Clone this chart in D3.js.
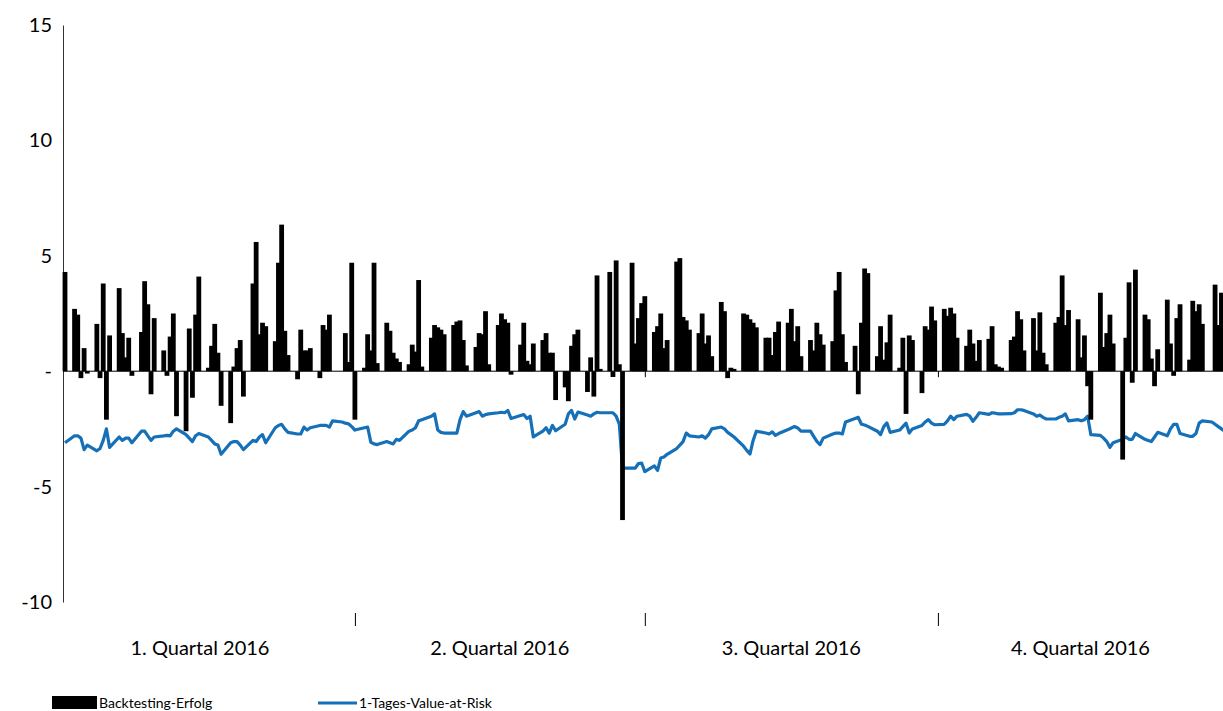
<!DOCTYPE html>
<html>
<head>
<meta charset="utf-8">
<script src="https://cdn.jsdelivr.net/npm/d3@7"></script>
<style>
  body { margin: 0; background: #fff; }
  svg { display: block; font-family: Lato, "Open Sans", sans-serif; }
  .ylab text { font-size: 20px; fill: #000; }
  .qlabel { font-size: 20px; fill: #000; }
  .legend text { font-size: 14px; fill: #000; }
</style>
</head>
<body>
<svg id="chart" width="1223" height="711"></svg>
<script>
// Backtesting-Erfolg per trading day (weekdays of 2016), one array per quarter
const erfolgQ1 = [
  4.3,
  2.7, 2.45, -0.3, 1.0, -0.1,
  2.05, -0.3, 3.8, -2.1, 1.55,
  3.6, 1.65, 0.6, 1.45, -0.2,
  1.7, 3.9, 2.9, -1.0, 2.3,
  0.9, -0.2, 1.5, 2.5, -1.95,
  -2.6, 1.85, -1.15, 2.45, 4.1,
  0.15, 1.1, 2.05, 0.8, -1.5,
  -2.25, 0.2, 1.0, 1.35, -1.1,
  3.8, 5.6, 1.6, 2.1, 1.95,
  1.3, 4.7, 6.35, 1.75, 0.7,
  -0.35, 1.8, 0.9, 0.9, 1.0,
  -0.3, 2.0, 1.8, 2.45, 0,
  0, 1.65, 0.4, 4.7
];
const erfolgQ2 = [
  -2.1,
  0.15, 1.6, 0.9, 4.7, 0.35,
  2.1, 1.75, 0.8, 0.55, 0.4,
  0.3, 1.15, 0.85, 3.95, 0.2,
  1.45, 2.0, 1.9, 1.8, 1.6,
  2.0, 2.15, 2.2, 1.35, 0.25,
  1.05, 1.65, 1.6, 2.6, 0.3,
  2.0, 2.5, 2.25, 2.1, -0.15,
  1.15, 2.1, 0.45, 0.3, 1.2,
  1.35, 1.65, 0.8, 0.8, -1.25,
  -0.7, -1.3, 1.1, 1.6, 1.8,
  -0.9, 0.6, -1.1, 4.15, 0.1,
  4.3, -0.25, 4.8, 0.3, -6.45,
  4.7, 1.2, 2.3, 2.95
];
const erfolgQ3 = [
  3.25,
  1.7, 1.95, 2.5, 1.0, 1.35,
  4.75, 4.9, 2.35, 2.2, 1.8,
  1.65, 2.5, 1.2, 1.55, 0.65,
  3.0, 2.6, -0.3, 0.15, 0.1,
  2.5, 2.45, 2.25, 2.1, 1.9,
  1.45, 1.45, 0.7, 1.7, 2.15,
  2.1, 2.7, 1.3, 1.95, 0.65,
  1.35, 0.9, 2.1, 1.6, 1.15,
  1.3, 3.5, 4.3, 1.6, 0.4,
  1.1, -1.0, 2.1, 4.45, 4.25,
  0.65, 1.95, 0.5, 1.25, 2.45,
  0.15, 1.45, -1.85, 1.55, 1.35,
  -0.95, 1.95, 1.8, 2.8, 2.2
];
const erfolgQ4 = [
  2.7, 2.4, 2.75, 2.5, 1.45,
  1.1, 1.8, 1.2, 0.45, 1.35,
  1.4, 1.95, 0.3, 0.2, 0.15,
  1.35, 1.5, 2.6, 2.25, 0.9,
  2.3, 0.9, 2.55, 0.8, 0.3,
  2.1, 2.35, 4.15, 2.0, 2.65,
  2.25, 0.6, 1.55, -0.65, -2.1,
  3.4, 1.05, 1.65, 2.45, 1.2,
  -3.83, 1.45, 3.85, -0.5, 4.4,
  2.45, 2.25, 0.55, -0.65, 0.95,
  3.1, 1.2, -0.2, 2.3, 2.9,
  0.5, 3.05, 2.6, 2.9, 2.05,
  0, 3.75, 2.0, 3.4, 0.5
];

// 1-Tages-Value-at-Risk per trading day
const varQ1 = [
  -3.1,
  -2.8, -2.8, -2.9, -3.4, -3.2,
  -3.45, -3.35, -3.0, -2.5, -3.3,
  -2.85, -3.0, -2.9, -2.9, -3.1,
  -2.6, -2.6, -2.8, -3.0, -2.85,
  -2.8, -2.78, -2.8, -2.6, -2.5,
  -2.75, -2.9, -3.05, -2.8, -2.7,
  -2.85, -3.0, -3.15, -3.2, -3.6,
  -3.1, -3.05, -3.05, -3.2, -3.4,
  -3.0, -3.05, -2.85, -2.75, -3.1,
  -2.45, -2.35, -2.3, -2.5, -2.65,
  -2.72, -2.72, -2.42, -2.55, -2.45,
  -2.35, -2.35, -2.35, -2.42, -2.15,
  -2.2, -2.25, -2.28, -2.4
];
const varQ2 = [
  -2.55,
  -2.45, -2.42, -3.08, -3.15, -3.18,
  -3.05, -3.1, -3.15, -2.95, -3.0,
  -2.6, -2.55, -2.45, -2.15, -2.1,
  -1.95, -1.85, -2.55, -2.65, -2.68,
  -2.68, -2.68, -2.1, -1.75, -1.95,
  -1.8, -1.75, -1.95, -1.88, -1.85,
  -1.8, -1.78, -1.8, -1.7, -2.05,
  -1.92, -1.88, -2.05, -1.95, -2.85,
  -2.6, -2.45, -2.68, -2.35, -2.58,
  -2.3, -1.85, -1.7, -2.07, -1.77,
  -1.9, -1.95, -1.85, -1.78, -1.8,
  -1.8, -1.8, -1.95, -2.3, -4.2,
  -4.2, -4.2, -4.0, -3.98
];
const varQ3 = [
  -4.35,
  -4.1, -4.3, -3.76, -3.72, -3.6,
  -3.35, -3.2, -3.05, -2.68, -2.8,
  -2.85, -2.8, -2.9, -2.75, -2.5,
  -2.42, -2.5, -2.65, -2.75, -2.85,
  -3.25, -3.43, -3.59, -3.0, -2.6,
  -2.68, -2.72, -2.63, -2.78, -2.7,
  -2.53, -2.46, -2.4, -2.46, -2.6,
  -2.6, -2.82, -3.04, -3.18, -2.9,
  -2.72, -2.68, -2.68, -2.72, -2.2,
  -2.05, -2.0, -2.3, -2.33, -2.39,
  -2.6, -2.75, -2.4, -2.24, -2.65,
  -2.55, -2.4, -2.25, -2.68, -2.5,
  -2.35, -2.2, -2.1, -2.25, -2.32
];
const varQ4 = [
  -2.3, -2.15, -1.95, -2.1, -1.95,
  -1.87, -1.95, -2.17, -2.0, -1.8,
  -1.87, -1.8, -1.82, -1.85, -1.85,
  -1.84, -1.8, -1.67, -1.67, -1.7,
  -1.85, -1.95, -1.9, -2.0, -2.07,
  -2.07, -2.0, -1.95, -1.85, -2.15,
  -2.1, -2.15, -2.1, -1.95, -2.75,
  -2.78, -2.9, -3.05, -3.3, -3.1,
  -2.95, -2.85, -2.95, -2.95, -2.7,
  -2.95, -3.0, -3.05, -2.85, -2.65,
  -2.8, -2.5, -2.3, -2.3, -2.7,
  -2.82, -2.82, -2.7, -2.25, -2.15,
  -2.2, -2.3, -2.4, -2.5, -2.6
];

const quarterLabels = ["1. Quartal 2016", "2. Quartal 2016", "3. Quartal 2016", "4. Quartal 2016"];
const yTicks = [-10, -5, 0, 5, 10, 15];
const seriesNames = ["Backtesting-Erfolg", "1-Tages-Value-at-Risk"];

const tradingDays = d3.timeDay.range(new Date(2016, 0, 1), new Date(2017, 0, 1))
  .filter(d => d.getDay() !== 0 && d.getDay() !== 6);
const erfolg = [...erfolgQ1, ...erfolgQ2, ...erfolgQ3, ...erfolgQ4];
const var1d = [...varQ1, ...varQ2, ...varQ3, ...varQ4];
const data = tradingDays.map((d, i) => ({ date: d, erfolg: erfolg[i], var: var1d[i] }));

const quarterStarts = [0, 3, 6, 9, 12].map(m => new Date(2016, m, 1));

const svg = d3.select("#chart");
const xScale = d3.scaleTime()
  .domain([new Date(2016, 0, 1), new Date(2017, 0, 1)])
  .range([65, 1231]);
const yScale = d3.scaleLinear()
  .domain([-10, 15])
  .range([602, 25]);

// y axis
const yAxis = svg.append("g")
  .attr("class", "ylab")
  .attr("transform", "translate(63,0)")
  .call(d3.axisLeft(yScale)
    .tickValues(yTicks)
    .tickSize(0)
    .tickPadding(11)
    .tickFormat(d => d === 0 ? "-" : d));
yAxis.select(".domain").attr("stroke", "#333").attr("stroke-width", 1);
yAxis.selectAll("text").attr("font-family", "Lato, sans-serif");

// zero line with quarter ticks
svg.append("line")
  .attr("x1", 63).attr("x2", 1223)
  .attr("y1", yScale(0)).attr("y2", yScale(0))
  .attr("stroke", "#000").attr("stroke-width", 1);
const zeroTicks = svg.append("g")
  .attr("transform", `translate(0,${yScale(0)})`)
  .call(d3.axisBottom(xScale).tickValues(quarterStarts.slice(1, 4)).tickSize(6).tickFormat(""));
zeroTicks.select(".domain").remove();

// bottom quarter ticks + labels
const bottomTicks = svg.append("g")
  .attr("transform", "translate(0,613)")
  .call(d3.axisBottom(xScale).tickValues(quarterStarts.slice(1, 4)).tickSize(13).tickFormat(""));
bottomTicks.select(".domain").remove();

// label centres: first quarter measured from the left label column
const labelLeft = i => i === 0 ? 45 : xScale(quarterStarts[i]);
const labelRight = i => Math.min(1223, xScale(quarterStarts[i + 1]));
svg.selectAll(".qlabel")
  .data(quarterLabels)
  .enter()
  .append("text")
  .attr("class", "qlabel")
  .attr("x", (d, i) => (labelLeft(i) + labelRight(i)) / 2)
  .attr("y", 655)
  .attr("text-anchor", "middle")
  .text(d => d);

// VaR line
svg.append("path")
  .datum(data)
  .attr("fill", "none")
  .attr("stroke", "#1570b8")
  .attr("stroke-width", 3.2)
  .attr("stroke-linejoin", "round")
  .attr("d", d3.line()
    .x(d => xScale(d.date))
    .y(d => yScale(d.var)));

// backtesting bars
svg.selectAll(".bar")
  .data(data)
  .enter()
  .append("rect")
  .attr("class", "bar")
  .attr("x", d => xScale(d.date) - 2.4)
  .attr("y", d => yScale(Math.max(0, d.erfolg)))
  .attr("width", 4.8)
  .attr("height", d => Math.abs(yScale(d.erfolg) - yScale(0)))
  .attr("fill", "#000");

// legend
const legend = svg.append("g").attr("class", "legend");
legend.append("rect")
  .attr("x", 52).attr("y", 696).attr("width", 45).attr("height", 13)
  .attr("fill", "#000");
legend.append("text").attr("x", 99).attr("y", 708).text(seriesNames[0]);
legend.append("line")
  .attr("x1", 318).attr("x2", 357).attr("y1", 703).attr("y2", 703)
  .attr("stroke", "#1570b8").attr("stroke-width", 3);
legend.append("text").attr("x", 359).attr("y", 708).text(seriesNames[1]);
</script>
</body>
</html>
